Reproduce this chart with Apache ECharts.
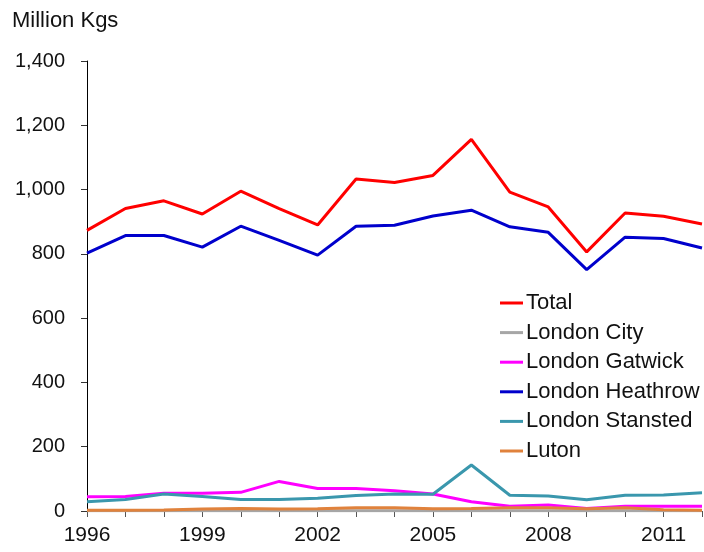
<!DOCTYPE html>
<html>
<head>
<meta charset="utf-8">
<script src="https://cdn.jsdelivr.net/npm/echarts@6/dist/echarts.min.js"></script>
<style>
  html, body { margin: 0; padding: 0; background: #fff; }
  #chart { width: 704px; height: 552px; }
</style>
</head>
<body>
<div id="chart"></div>
<script>
  // Freight through London airports, million kg per year
  const YEARS = ["1996", "1997", "1998", "1999", "2000", "2001", "2002", "2003", "2004",
                 "2005", "2006", "2007", "2008", "2009", "2010", "2011", "2012"];

  const TOTAL    = [873, 941, 965, 924, 995, 941, 890, 1033, 1022, 1044, 1156, 992, 946, 806, 927, 917, 893];
  const CITY     = [1, 1, 1, 1, 1, 1, 1, 1, 1, 1, 1, 1, 1, 1, 1, 1, 1];
  const GATWICK  = [44, 45, 55, 55, 58, 92, 70, 70, 63, 53, 29, 15, 19, 8, 15, 15, 15];
  const HEATHROW = [802, 857, 857, 821, 886, 842, 796, 886, 889, 918, 936, 884, 867, 751, 852, 848, 818];
  const STANSTED = [29, 36, 53, 45, 36, 36, 40, 48, 53, 52, 143, 49, 47, 35, 49, 50, 57];
  const LUTON    = [2, 2, 3, 6, 8, 6, 7, 10, 10, 7, 8, 10, 10, 7, 10, 4, 2];

  const FONT = "Liberation Sans, Arial, sans-serif";
  const INK = "#111";

  const SERIES = [
    { name: "Total", data: TOTAL, color: "#ff0000" },
    { name: "London City", data: CITY, color: "#a6a6a6" },
    { name: "London Gatwick", data: GATWICK, color: "#ff00ff" },
    { name: "London Heathrow", data: HEATHROW, color: "#0000cc" },
    { name: "London Stansted", data: STANSTED, color: "#3a97ad" },
    { name: "Luton", data: LUTON, color: "#e0823c" },
  ];

  const inst = echarts.init(document.getElementById("chart"), null, { renderer: "canvas" });

  inst.setOption({
    animation: false,
    title: {
      text: "Million Kgs", left: 7, top: 5,
      textStyle: { fontFamily: FONT, fontSize: 22, fontWeight: "normal", color: INK },
    },
    grid: { left: 87, right: 2, top: 61, bottom: 41, containLabel: false },
    legend: {
      orient: "vertical", left: 500, top: 292, padding: 0,
      icon: "rect", itemWidth: 23, itemHeight: 3, itemGap: 7.6,
      textStyle: { fontFamily: FONT, fontSize: 22, color: INK, lineHeight: 22, padding: [0, 0, 0, -2] },
      data: SERIES.map((s) => s.name),
    },
    xAxis: {
      type: "category", data: YEARS, boundaryGap: false,
      axisLine: { lineStyle: { color: "#8c8c8c", width: 1 } },
      axisTick: { interval: 0, length: 6, lineStyle: { color: "#555" } },
      axisLabel: { interval: 2, margin: 14, fontFamily: FONT, fontSize: 21, color: INK },
      splitLine: { show: false },
    },
    yAxis: {
      type: "value", min: 0, max: 1400, interval: 200,
      axisLine: { show: true, lineStyle: { color: "#000", width: 1 } },
      axisTick: { show: true, length: 6, lineStyle: { color: "#333" } },
      axisLabel: {
        margin: 22, fontFamily: FONT, fontSize: 20, color: INK,
        formatter: (v) => v.toLocaleString("en-US"),
      },
      splitLine: { show: false },
    },
    series: SERIES.map((s) => ({
      name: s.name, type: "line", data: s.data,
      showSymbol: false, symbol: "none",
      itemStyle: { color: s.color },
      lineStyle: { color: s.color, width: 3 },
    })),
  });
</script>
</body>
</html>
